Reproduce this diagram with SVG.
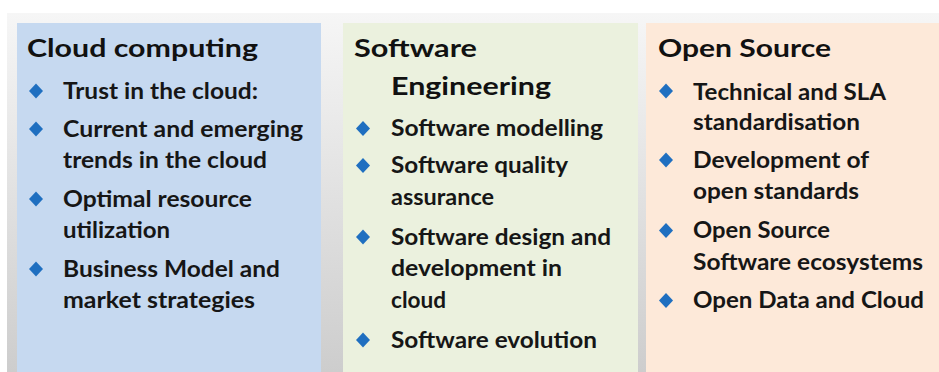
<svg xmlns="http://www.w3.org/2000/svg" width="939" height="372" viewBox="0 0 939 372">
<defs>
<linearGradient id="bg" x1="0" y1="0" x2="0" y2="1">
<stop offset="0" stop-color="#f6f6f6"/>
<stop offset="1" stop-color="#cdcdcd"/>
</linearGradient>
<polygon id="dia" points="0,-7.5 7,0 0,7.5 -7,0"/>
</defs>
<style>
.t{font-family:Lato,"Liberation Sans",sans-serif;font-weight:bold;font-size:24.5px;fill:#111}
.b{font-family:Lato,"Liberation Sans",sans-serif;font-weight:bold;font-size:22px;fill:#161616}
.d{fill:#1f6fc0}
</style>
<rect x="0" y="0" width="939" height="372" fill="#ffffff"/>
<rect x="7" y="13" width="932" height="359" fill="url(#bg)"/>
<g id="cloud">
<rect x="17" y="23" width="304" height="349" fill="#c6d9f0"/>
<text class="t" x="27" y="57" textLength="231" lengthAdjust="spacingAndGlyphs">Cloud computing</text>
<use href="#dia" class="d" x="36" y="91"/>
<text class="b" x="63" y="99" textLength="195" lengthAdjust="spacingAndGlyphs">Trust in the cloud:</text>
<use href="#dia" class="d" x="36" y="129"/>
<text class="b" x="63" y="137" textLength="240" lengthAdjust="spacingAndGlyphs">Current and emerging</text>
<text class="b" x="63" y="168" textLength="204" lengthAdjust="spacingAndGlyphs">trends in the cloud</text>
<use href="#dia" class="d" x="36" y="199"/>
<text class="b" x="63" y="207" textLength="189" lengthAdjust="spacingAndGlyphs">Optimal resource</text>
<text class="b" x="63" y="238" textLength="107" lengthAdjust="spacingAndGlyphs">utilization</text>
<use href="#dia" class="d" x="36" y="269"/>
<text class="b" x="63" y="277" textLength="217" lengthAdjust="spacingAndGlyphs">Business Model and</text>
<text class="b" x="63" y="308" textLength="192" lengthAdjust="spacingAndGlyphs">market strategies</text>
</g>
<g id="software">
<rect x="343" y="23" width="295" height="349" fill="#ebf1de"/>
<text class="t" x="354" y="57" textLength="123" lengthAdjust="spacingAndGlyphs">Software</text>
<text class="t" x="391" y="95" textLength="160" lengthAdjust="spacingAndGlyphs">Engineering</text>
<use href="#dia" class="d" x="363" y="128.5"/>
<text class="b" x="391" y="136" textLength="212" lengthAdjust="spacingAndGlyphs">Software modelling</text>
<use href="#dia" class="d" x="363" y="165.5"/>
<text class="b" x="391" y="173" textLength="177" lengthAdjust="spacingAndGlyphs">Software quality</text>
<text class="b" x="391" y="205" textLength="103" lengthAdjust="spacingAndGlyphs">assurance</text>
<use href="#dia" class="d" x="363" y="237"/>
<text class="b" x="391" y="245" textLength="220" lengthAdjust="spacingAndGlyphs">Software design  and</text>
<text class="b" x="391" y="276" textLength="171" lengthAdjust="spacingAndGlyphs">development in</text>
<text class="b" x="391" y="308" textLength="55" lengthAdjust="spacingAndGlyphs">cloud</text>
<use href="#dia" class="d" x="363" y="340"/>
<text class="b" x="391" y="348" textLength="206" lengthAdjust="spacingAndGlyphs">Software evolution</text>
</g>
<g id="opensource">
<rect x="646" y="23" width="293" height="349" fill="#fde9d9"/>
<text class="t" x="658" y="57" textLength="173" lengthAdjust="spacingAndGlyphs">Open Source</text>
<use href="#dia" class="d" x="666" y="91"/>
<text class="b" x="693" y="100" textLength="193" lengthAdjust="spacingAndGlyphs">Technical  and SLA</text>
<text class="b" x="693" y="130" textLength="167" lengthAdjust="spacingAndGlyphs">standardisation</text>
<use href="#dia" class="d" x="666" y="160"/>
<text class="b" x="693" y="168" textLength="176" lengthAdjust="spacingAndGlyphs">Development of</text>
<text class="b" x="693" y="199" textLength="166" lengthAdjust="spacingAndGlyphs">open standards</text>
<use href="#dia" class="d" x="666" y="230.5"/>
<text class="b" x="693" y="238" textLength="137" lengthAdjust="spacingAndGlyphs">Open Source</text>
<text class="b" x="693" y="270" textLength="230" lengthAdjust="spacingAndGlyphs">Software ecosystems</text>
<use href="#dia" class="d" x="666" y="300.5"/>
<text class="b" x="693" y="308" textLength="231" lengthAdjust="spacingAndGlyphs">Open Data and Cloud</text>
</g>
</svg>
